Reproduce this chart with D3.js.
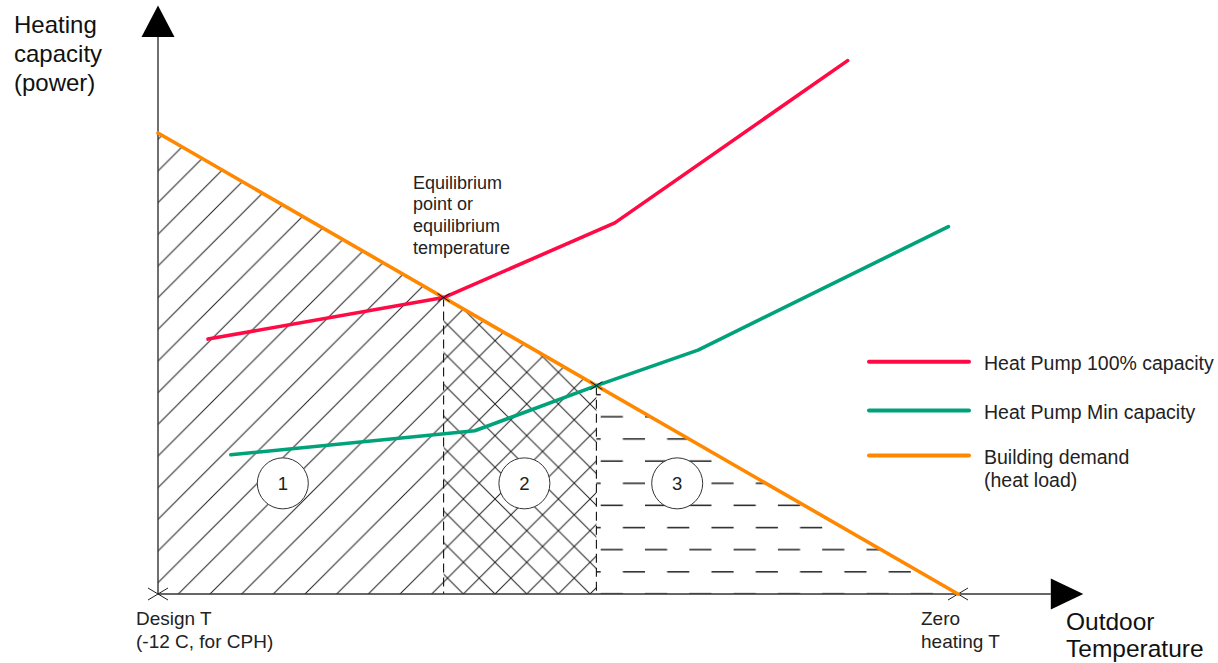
<!DOCTYPE html>
<html><head><meta charset="utf-8">
<script src="https://cdn.jsdelivr.net/npm/d3@7"></script>
<style>
html,body{margin:0;padding:0;background:#fff;}
svg{display:block;font-family:"Liberation Sans",Arial,sans-serif;}
</style></head>
<body>
<svg id="c" width="1218" height="663"></svg>
<script>
// ---- data (abstract units: outdoor temperature 0..100, heating power 0..100) ----
const demandX = [0, 100];
const demandY = [100, 0];
const hp100X = [6.25, 35.7, 57.1, 86.2];
const hp100Y = [55.3, 64.3, 80.5, 115.7];
const hpMinX = [9.1, 39.6, 54.8, 67.5, 98.8];
const hpMinY = [30.2, 35.4, 45.2, 52.9, 79.7];
const equilibriumX = 35.7;   // 100% capacity meets demand
const minCapX = 54.8;        // min capacity meets demand
const zoneLabels = ["1", "2", "3"];
const zoneLabelX = [15.6, 45.8, 64.9];
const zoneLabelY = [24, 24, 24];
const seriesNames = ["Heat Pump 100% capacity", "Heat Pump Min capacity", "Building demand\n(heat load)"];
const seriesColors = ["#ff0a45", "#00a27a", "#ff8800"];
const tickLabels = ["Design T\n(-12 C, for CPH)", "Zero\nheating T"];
const tickValues = [0, 100];
const yTitle = ["Heating", "capacity", "(power)"];
const xTitle = ["Outdoor", "Temperature"];
const eqNote = ["Equilibrium", "point or", "equilibrium", "temperature"];
const axisXMax = 111.6, axisYMax = 120.8;

// ---- scales ----
const x = d3.scaleLinear().domain([0, 100]).range([158, 958]);
const y = d3.scaleLinear().domain([0, 100]).range([594, 133]);
const demandAt = d3.scaleLinear().domain(demandX).range(demandY);

const svg = d3.select("#c");
const defs = svg.append("defs");
const sp = 31.67;
const hatchCol = "#1e1e1e";
// diagonal hatch
const p1 = defs.append("pattern").attr("id","diag").attr("patternUnits","userSpaceOnUse")
  .attr("width", sp).attr("height", sp).attr("patternTransform","translate(20,594)");
p1.append("path").attr("d",`M${-sp/2},${sp/2}L${sp/2},${-sp/2}M0,${sp}L${sp},0M${sp/2},${1.5*sp}L${1.5*sp},${sp/2}`)
  .attr("stroke",hatchCol).attr("stroke-width",1);
// cross hatch
const p2 = defs.append("pattern").attr("id","cross").attr("patternUnits","userSpaceOnUse")
  .attr("width", sp).attr("height", sp).attr("patternTransform","translate(20,594)");
p2.append("path").attr("d",`M${-sp/2},${sp/2}L${sp/2},${-sp/2}M0,${sp}L${sp},0M${sp/2},${1.5*sp}L${1.5*sp},${sp/2}` +
  `M${-sp/2},${sp/2}L${sp/2},${1.5*sp}M0,0L${sp},${sp}M${sp/2},${-sp/2}L${1.5*sp},${sp/2}`)
  .attr("stroke",hatchCol).attr("stroke-width",1);
// horizontal dashes
const dh = 22.15;
const p3 = defs.append("pattern").attr("id","dash").attr("patternUnits","userSpaceOnUse")
  .attr("width", 2*dh).attr("height", 2*dh).attr("patternTransform",`translate(600.7,${594-dh/2})`);
p3.append("path").attr("d",`M0,${dh/2}H${dh}M${dh},${1.5*dh}H${2*dh}`)
  .attr("stroke",hatchCol).attr("stroke-width",1.3);

const poly = pts => "M" + pts.map(p => x(p[0]) + "," + y(p[1])).join("L") + "Z";
svg.append("path").attr("d", poly([[0,0],[0,demandAt(0)],[equilibriumX,demandAt(equilibriumX)],[equilibriumX,0]]))
  .attr("fill","url(#diag)");
svg.append("path").attr("d", poly([[equilibriumX,0],[equilibriumX,demandAt(equilibriumX)],[minCapX,demandAt(minCapX)],[minCapX,0]]))
  .attr("fill","url(#cross)");
svg.append("path").attr("d", poly([[minCapX,0],[minCapX,demandAt(minCapX)],[100,0]]))
  .attr("fill","url(#dash)");

// vertical dashed separators
[equilibriumX, minCapX].forEach(v => {
  svg.append("line").attr("x1",x(v)).attr("x2",x(v)).attr("y1",y(demandAt(v))).attr("y2",y(0))
    .attr("stroke","#111").attr("stroke-width",1.1).attr("stroke-dasharray","9,5");
});

// zone circles
zoneLabels.forEach((t,i) => {
  svg.append("circle").attr("cx",x(zoneLabelX[i])).attr("cy",y(zoneLabelY[i])).attr("r",25.5)
    .attr("fill","#fff").attr("stroke","#333").attr("stroke-width",1);
  svg.append("text").attr("x",x(zoneLabelX[i])).attr("y",y(zoneLabelY[i])+6.5).attr("text-anchor","middle")
    .attr("font-size",18.5).attr("fill","#222").text(t);
});

// axes
const axCol = "#333";
svg.append("line").attr("x1",x(0)).attr("x2",x(axisXMax)).attr("y1",y(0)).attr("y2",y(0)).attr("stroke",axCol).attr("stroke-width",1.4);
svg.append("line").attr("x1",x(0)).attr("x2",x(0)).attr("y1",y(0)).attr("y2",y(axisYMax)).attr("stroke",axCol).attr("stroke-width",1.4);
const ax = x(axisXMax), ay = y(axisYMax);
svg.append("path").attr("d",`M${ax},${y(0)-15.5}L${ax+32.5},${y(0)}L${ax},${y(0)+15.5}Z`).attr("fill","#000");
svg.append("path").attr("d",`M${x(0)-16.5},${ay}L${x(0)},${ay-31.5}L${x(0)+16.5},${ay}Z`).attr("fill","#000");

// tick crosses & labels
tickValues.forEach((v,i) => {
  svg.append("path").attr("d",`M${x(v)-10},${y(0)-6}L${x(v)+10},${y(0)+6}M${x(v)-10},${y(0)+6}L${x(v)+10},${y(0)-6}`)
    .attr("stroke","#222").attr("stroke-width",1);
});
const tl0 = tickLabels[0].split("\n");
tl0.forEach((s,j)=> svg.append("text").attr("x",136).attr("y",625+j*23).attr("font-size",19).attr("fill","#222").text(s));
const tl1 = tickLabels[1].split("\n");
tl1.forEach((s,j)=> svg.append("text").attr("x",921).attr("y",625+j*23).attr("font-size",19).attr("fill","#222").text(s));

// series lines
const line = d3.line().x(d=>x(d[0])).y(d=>y(d[1]));
const series = [
  d3.zip(hp100X, hp100Y),
  d3.zip(hpMinX, hpMinY),
  d3.zip(demandX, demandY)
];
[2,0,1].forEach(i => {
  svg.append("path").attr("d", line(series[i])).attr("fill","none").attr("stroke",seriesColors[i])
    .attr("stroke-width",3.6).attr("stroke-linejoin","round").attr("stroke-linecap","round");
});

// intersection crosses
[equilibriumX, minCapX].forEach(v => {
  const cx = x(v), cy = y(demandAt(v));
  svg.append("path").attr("d",`M${cx-6},${cy-4}L${cx+6},${cy+4}M${cx-6},${cy+4}L${cx+6},${cy-4}`)
    .attr("stroke","#111").attr("stroke-width",1);
});

// titles
yTitle.forEach((s,j)=> svg.append("text").attr("x",14).attr("y",33+j*29).attr("font-size",24).attr("fill","#111").text(s));
xTitle.forEach((s,j)=> svg.append("text").attr("x",1066).attr("y",630+j*27).attr("font-size",24.5).attr("fill","#111").text(s));
eqNote.forEach((s,j)=> svg.append("text").attr("x",413).attr("y",188.5+j*21.7).attr("font-size",18).attr("fill","#222").text(s));

// legend
const legY = [361.7, 410.5, 455.5];
seriesNames.forEach((n,i) => {
  svg.append("line").attr("x1",869).attr("x2",969).attr("y1",legY[i]).attr("y2",legY[i])
    .attr("stroke",seriesColors[i]).attr("stroke-width",4).attr("stroke-linecap","round");
  n.split("\n").forEach((s,j)=> svg.append("text").attr("x",984).attr("y",legY[i]+8.5+j*23.3)
    .attr("font-size",19.5).attr("fill","#222").text(s));
});
</script>
</body></html>
